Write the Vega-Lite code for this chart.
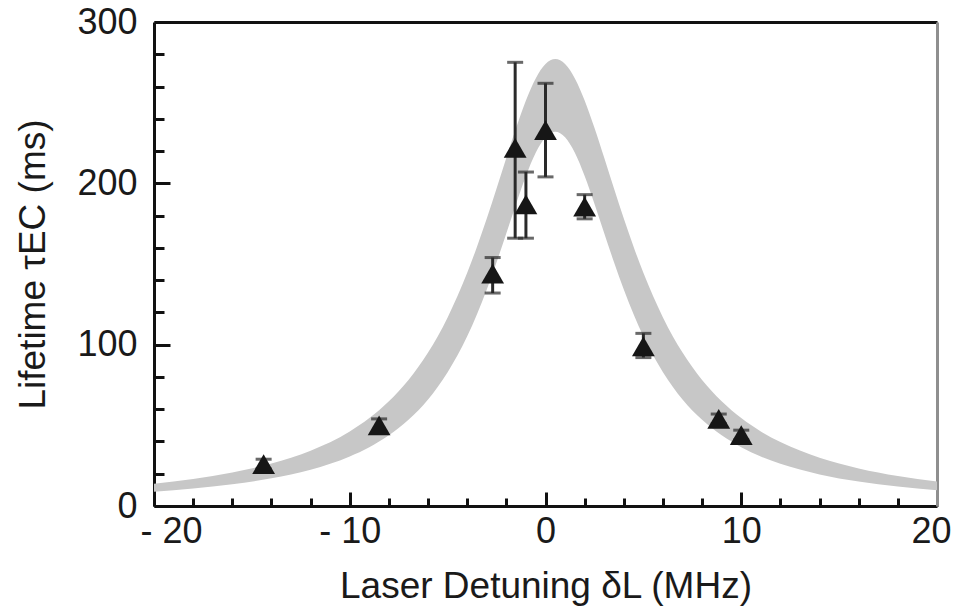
{
  "$schema": "https://vega.github.io/schema/vega-lite/v6.json",
  "width": 783,
  "height": 484,
  "padding": {"left": 14, "top": 4, "right": 2, "bottom": 2},
  "background": "white",
  "config": {
    "view": {"stroke": null},
    "axis": {
      "grid": false,
      "labelFont": "Liberation Sans",
      "titleFont": "Liberation Sans",
      "labelColor": "#1a1a1a",
      "titleColor": "#1a1a1a",
      "titleFontWeight": "normal",
      "domainColor": "#111111",
      "tickColor": "#111111",
      "domainWidth": 3,
      "tickWidth": 3,
      "zindex": 1
    }
  },
  "datasets": {
    "band": [
      {"x": -20, "lo": 8.9, "hi": 13.8},
      {"x": -18, "lo": 10.9, "hi": 16.8},
      {"x": -16, "lo": 13.5, "hi": 20.8},
      {"x": -14, "lo": 17.2, "hi": 26.3},
      {"x": -12, "lo": 22.5, "hi": 34.3},
      {"x": -10, "lo": 30.7, "hi": 46.2},
      {"x": -9, "lo": 36.4, "hi": 54.5},
      {"x": -8, "lo": 43.8, "hi": 64.9},
      {"x": -7, "lo": 53.4, "hi": 78.1},
      {"x": -6, "lo": 66.0, "hi": 95.1},
      {"x": -5, "lo": 82.9, "hi": 116.9},
      {"x": -4, "lo": 105.2, "hi": 144.5},
      {"x": -3.5, "lo": 118.9, "hi": 160.7},
      {"x": -3, "lo": 134.2, "hi": 178.2},
      {"x": -2.5, "lo": 151.1, "hi": 196.8},
      {"x": -2, "lo": 169.1, "hi": 215.9},
      {"x": -1.5, "lo": 187.4, "hi": 234.5},
      {"x": -1, "lo": 204.6, "hi": 251.4},
      {"x": -0.5, "lo": 219.0, "hi": 265.0},
      {"x": 0, "lo": 228.6, "hi": 273.9},
      {"x": 0.5, "lo": 232.0, "hi": 277.0},
      {"x": 1, "lo": 228.6, "hi": 273.9},
      {"x": 1.5, "lo": 219.0, "hi": 265.0},
      {"x": 2, "lo": 204.6, "hi": 251.4},
      {"x": 2.5, "lo": 187.4, "hi": 234.5},
      {"x": 3, "lo": 169.1, "hi": 215.9},
      {"x": 3.5, "lo": 151.1, "hi": 196.8},
      {"x": 4, "lo": 134.2, "hi": 178.2},
      {"x": 4.5, "lo": 118.9, "hi": 160.7},
      {"x": 5, "lo": 105.2, "hi": 144.5},
      {"x": 6, "lo": 82.9, "hi": 116.9},
      {"x": 7, "lo": 66.0, "hi": 95.1},
      {"x": 8, "lo": 53.4, "hi": 78.1},
      {"x": 9, "lo": 43.8, "hi": 64.9},
      {"x": 10, "lo": 36.4, "hi": 54.5},
      {"x": 11, "lo": 30.7, "hi": 46.2},
      {"x": 12, "lo": 26.2, "hi": 39.6},
      {"x": 14, "lo": 19.6, "hi": 29.9},
      {"x": 16, "lo": 15.2, "hi": 23.3},
      {"x": 18, "lo": 12.1, "hi": 18.6},
      {"x": 20, "lo": 9.8, "hi": 15.2}
    ],
    "points": [
      {"x": -14.4, "y": 26, "lo": 23, "hi": 29},
      {"x": -8.5, "y": 50, "lo": 46, "hi": 54},
      {"x": -2.7, "y": 144, "lo": 132, "hi": 154},
      {"x": -1.55, "y": 222, "lo": 166, "hi": 275},
      {"x": -1.0, "y": 187, "lo": 166, "hi": 207},
      {"x": 0.0, "y": 233, "lo": 204, "hi": 262},
      {"x": 2.0, "y": 185.5, "lo": 178, "hi": 193},
      {"x": 5.0, "y": 99, "lo": 92, "hi": 107},
      {"x": 8.85, "y": 54, "lo": 51, "hi": 57},
      {"x": 10.0, "y": 44, "lo": 41, "hi": 47}
    ]
  },
  "layer": [
    {
      "data": {"name": "band"},
      "mark": {"type": "area", "color": "#c7c7c7", "interpolate": "monotone"},
      "encoding": {
        "x": {
          "field": "x", "type": "quantitative",
          "scale": {"domain": [-20, 20], "nice": false},
          "axis": {
            "orient": "bottom",
            "values": [-20, -10, 0, 10, 20],
            "tickSize": -14,
            "labelPadding": 22,
            "labelFontSize": 36,
            "labelFlush": true,
            "labelFlushOffset": 14,
            "labelExpr": "datum.value < 0 ? '- ' + abs(datum.value) : datum.label",
            "title": "Laser Detuning δL (MHz)",
            "titleFontSize": 37,
            "titlePadding": 19
          }
        },
        "y": {
          "field": "hi", "type": "quantitative",
          "scale": {"domain": [0, 300], "nice": false},
          "axis": {
            "orient": "left",
            "values": [0, 100, 200, 300],
            "tickSize": -16,
            "labelPadding": 33,
            "labelFontSize": 36,
            "title": "Lifetime τEC (ms)",
            "titleFontSize": 37,
            "titlePadding": 24
          }
        },
        "y2": {"field": "lo"}
      }
    },
    {
      "data": {"name": "points"},
      "mark": {"type": "rule", "color": "#2a2a2a", "strokeWidth": 3},
      "encoding": {
        "x": {
          "field": "x", "type": "quantitative",
          "axis": {
            "orient": "bottom",
            "values": [-18, -16, -14, -12, -8, -6, -4, -2, 2, 4, 6, 8, 12, 14, 16, 18],
            "tickSize": -8,
            "domain": false,
            "labels": false,
            "title": null
          }
        },
        "y": {
          "field": "lo", "type": "quantitative",
          "axis": {
            "orient": "left",
            "values": [20, 40, 60, 80, 120, 140, 160, 180, 220, 240, 260, 280],
            "tickSize": -10,
            "domain": false,
            "labels": false,
            "title": null
          }
        },
        "y2": {"field": "hi"}
      }
    },
    {
      "data": {"name": "points"},
      "mark": {"type": "tick", "orient": "horizontal", "size": 16, "thickness": 3, "color": "#2a2a2a"},
      "encoding": {
        "x": {
          "field": "x", "type": "quantitative",
          "axis": {"orient": "top", "ticks": false, "labels": false, "title": null, "domainColor": "#111111"}
        },
        "y": {
          "field": "lo", "type": "quantitative",
          "axis": {"orient": "right", "ticks": false, "labels": false, "title": null, "domainColor": "#8f8f8f"}
        }
      }
    },
    {
      "data": {"name": "points"},
      "mark": {"type": "tick", "orient": "horizontal", "size": 16, "thickness": 3, "color": "#2a2a2a"},
      "encoding": {
        "x": {"field": "x", "type": "quantitative", "axis": null},
        "y": {"field": "hi", "type": "quantitative", "axis": null}
      }
    },
    {
      "data": {"name": "points"},
      "mark": {"type": "point", "shape": "triangle-up", "filled": true, "size": 520, "color": "#161616", "opacity": 1},
      "encoding": {
        "x": {"field": "x", "type": "quantitative", "axis": null},
        "y": {"field": "y", "type": "quantitative", "axis": null}
      }
    }
  ],
  "resolve": {"axis": {"x": "independent", "y": "independent"}}
}
